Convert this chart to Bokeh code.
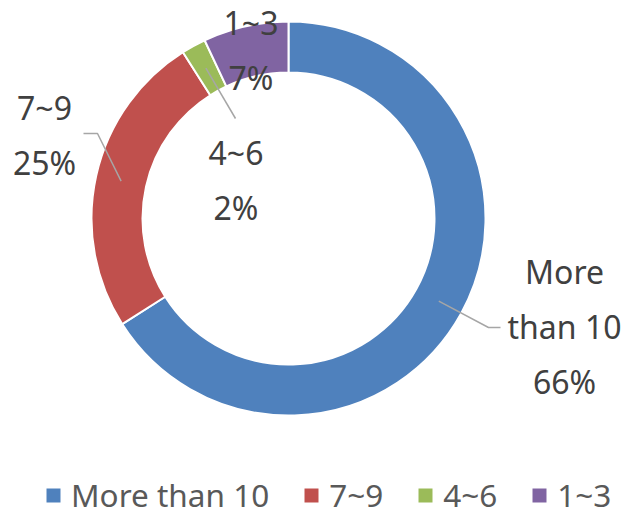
import math
from bokeh.plotting import figure
from bokeh.models import ColumnDataSource, Range1d, Legend, LegendItem
from bokeh.core.properties import value
from bokeh.embed import file_html
from bokeh.resources import INLINE

# ---------------- data ----------------
categories = ["More than 10", "7~9", "4~6", "1~3"]
values = [66, 25, 2, 7]
colors = ["#4F81BD", "#C0504D", "#9BBB59", "#8064A2"]
# category text as wrapped in the data labels
label_cat_lines = [["More", "than 10"], ["7~9"], ["4~6"], ["1~3"]]

# ---------------- layout ----------------
W, H = 632, 517
CX, CY = 288, 299
R_OUT, R_IN = 197, 146
LINE_STEP = 55
TEXT_DY = 3
FONT = "Noto Sans"
label_centers = [(564, 188), (44, 380), (235.5, 334.5), (250.5, 464.5)]
leader_ends = [[(488, 190), (500, 190)], [(97, 384), (83, 384)], [(235, 399)], []]

total = float(sum(values))
starts, ends, mids = [], [], []
cum = 0.0
for v in values:
    a0 = math.pi / 2 - cum / total * 2 * math.pi
    cum += v
    a1 = math.pi / 2 - cum / total * 2 * math.pi
    starts.append(a0)
    ends.append(a1)
    mids.append((a0 + a1) / 2)

src = ColumnDataSource(dict(cat=categories, val=values, color=colors,
                            start=starts, end=ends))

p = figure(width=W, height=H, output_backend="svg", toolbar_location=None,
           x_range=Range1d(0, W), y_range=Range1d(0, H),
           x_axis_location=None, y_axis_location=None, min_border=0)
p.grid.visible = False
p.outline_line_color = None
p.background_fill_color = "white"
p.border_fill_color = "white"

wr = p.annular_wedge(x=CX, y=CY, inner_radius=R_IN, outer_radius=R_OUT,
                     start_angle="start", end_angle="end", direction="clock",
                     fill_color="color", line_color="white", line_width=2,
                     source=src)

# leader lines
r_mid = (R_IN + R_OUT) / 2
for i, pts in enumerate(leader_ends):
    if not pts:
        continue
    xs = [CX + r_mid * math.cos(mids[i])] + [q[0] for q in pts]
    ys = [CY + r_mid * math.sin(mids[i])] + [q[1] for q in pts]
    p.line(xs, ys, line_color="#A6A6A6", line_width=1.5)

# data labels
tx, ty, tt = [], [], []
for i, (cat_lines, v) in enumerate(zip(label_cat_lines, values)):
    lines = cat_lines + [f"{v}%"]
    n = len(lines)
    cx, cy = label_centers[i]
    for k, t in enumerate(lines):
        tx.append(cx)
        ty.append(cy + TEXT_DY + (n - 1) / 2 * LINE_STEP - k * LINE_STEP)
        tt.append(t)
p.text(x=tx, y=ty, text=tt, text_align="center", text_baseline="middle",
       text_font=value(FONT), text_font_size="32px", text_color="#404040")

# legend
items = [LegendItem(label=c, renderers=[wr], index=i) for i, c in enumerate(categories)]
legend = Legend(items=items, orientation="horizontal", location=(43, 1),
                glyph_width=20, glyph_height=20, label_standoff=8, spacing=32,
                padding=0, margin=0, border_line_color=None,
                background_fill_alpha=0, label_text_font=FONT,
                label_text_font_size="31.5px", label_text_color="#595959")
p.add_layout(legend, "center")

open("out.html", "w").write(file_html(p, INLINE))
